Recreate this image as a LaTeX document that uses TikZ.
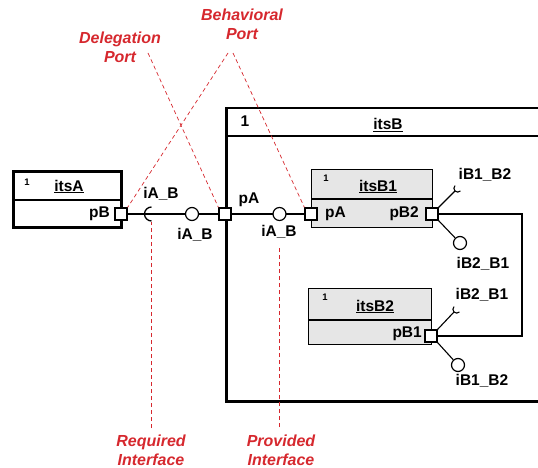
\documentclass[tikz,border=0pt]{standalone}
\usepackage{fontspec}
\setmainfont{Liberation Sans}
\definecolor{notered}{RGB}{214,40,46}
\definecolor{partgray}{RGB}{230,230,230}
\tikzset{
  lbl/.style={font=\fontsize{15.5}{17}\selectfont\bfseries, inner sep=0, anchor=base},
  mult/.style={font=\fontsize{9.5}{10}\selectfont\bfseries, inner sep=0, anchor=base},
  note/.style={font=\fontsize{16}{18.5}\selectfont\bfseries\itshape, text=notered,
    align=center, inner sep=0, anchor=base},
  notelink/.style={draw=notered, dash pattern=on 4pt off 3pt, line width=0.7pt},
  classbox/.style={draw, fill=white, line width=2.5pt, anchor=north west, inner sep=0},
  partbox/.style={draw, fill=partgray, line width=1.4pt, anchor=north west, inner sep=0},
  port/.style={draw, fill=white, minimum size=12pt, inner sep=0, line width=1.2pt},
  ball/.style={circle, draw, fill=white, minimum size=13pt, inner sep=0, line width=1.2pt},
  wire/.style={line width=1.3pt},
  stub/.style={line width=1.1pt}
}
\begin{document}
\begin{tikzpicture}[x=1pt,y=-1pt]
\useasboundingbox (0,0) rectangle (538,468);
\clip (0,0) rectangle (538,468);

% ---- class itsA ----
\node[classbox, minimum width=108pt, minimum height=56pt] (itsA) at (12,170) {};
\draw[line width=2.5pt] (12,200) -- (120,200);
\node[mult] (multA) at (27,185) {1};
\node[lbl] (titleA) at (69,191) {\underline{itsA}};

% ---- composite itsB ----
\node[classbox, minimum width=330pt, minimum height=293pt] (itsB) at (225,107) {};
\draw[line width=2.5pt] (225,136) -- (560,136);
\node[lbl] (multB) at (245,127) {1};
\node[lbl] (titleB) at (388,130) {\underline{itsB}};

% ---- part itsB1 ----
\node[partbox, minimum width=121pt, minimum height=58pt] (itsB1) at (311,169) {};
\draw[line width=1.4pt] (311,199) -- (432,199);
\node[mult] (multB1) at (326,182) {1};
\node[lbl] (titleB1) at (378,191) {\underline{itsB1}};

% ---- part itsB2 ----
\node[partbox, minimum width=123pt, minimum height=56pt] (itsB2) at (308,288) {};
\draw[line width=1.4pt] (308,320) -- (431,320);
\node[mult] (multB2) at (325,300) {1};
\node[lbl] (titleB2) at (375,311) {\underline{itsB2}};

% ---- ports ----
\node[port] (pB)  at (121,214) {};
\node[port] (pAB) at (225,214) {};
\node[port] (pA1) at (311,214) {};
\node[port] (pB2) at (432,214) {};
\node[port] (pB1) at (431,336) {};

\node[lbl, anchor=base east] (pBlbl)  at (110,217) {pB};
\node[lbl] (pABlbl) at (249,203) {pA};
\node[lbl, anchor=base west] (pA1lbl) at (325,217) {pA};
\node[lbl, anchor=base east] (pB2lbl) at (419,217) {pB2};
\node[lbl, anchor=base east] (pB1lbl) at (422,337) {pB1};

% ---- links ----
\coordinate (reqSock) at (151.5,214);
\draw[wire] (pB.east) -- (pAB.west);
\draw[wire] (reqSock) ++(90:7) arc[start angle=90, end angle=270, radius=7];
\node[ball] (ballA) at (192,214) {};
\node[lbl] (ifA1) at (161,198) {iA\_B};
\node[lbl] (ifA2) at (195,239) {iA\_B};

\draw[wire] (pAB.east) -- (pA1.west);
\node[ball] (ballB) at (279.5,214) {};
\node[lbl] (ifA3) at (279,236) {iA\_B};

\coordinate (loopR) at (522,275);
\draw[wire] (pB2.east) -| (loopR) |- (pB1.east);

% interfaces of pB2
\coordinate (sockB2) at (455,191);
\draw[stub] (pB2.north east) -- (sockB2);
\draw[stub] (sockB2) ++(-45:3.8) ++(45:3.8) arc[start angle=45, end angle=225, radius=3.8];
\node[ball] (ballB2) at (460,243) {};
\draw[stub] (pB2.south east) -- (ballB2);
\node[lbl] (ifB2a) at (485,179) {iB1\_B2};
\node[lbl] (ifB2b) at (483,268) {iB2\_B1};

% interfaces of pB1
\coordinate (sockB1) at (454,312);
\draw[stub] (pB1.north east) -- (sockB1);
\draw[stub] (sockB1) ++(-45:3.8) ++(45:3.8) arc[start angle=45, end angle=225, radius=3.8];
\node[ball] (ballB1) at (458,365) {};
\draw[stub] (pB1.south east) -- (ballB1);
\node[lbl] (ifB1a) at (482,299) {iB2\_B1};
\node[lbl] (ifB1b) at (482,385) {iB1\_B2};

% ---- annotations (base = baseline of the last line) ----
\node[note] (delegNote) at (120,62.5) {Delegation\\Port};
\node[note] (behavNote) at (242,39.3) {Behavioral\\Port};
\node[note] (reqNote)   at (151,465) {Required\\Interface};
\node[note] (provNote)  at (281,465) {Provided\\Interface};

\coordinate (delegTip)  at (148,53);
\coordinate (behavTipL) at (228,53);
\coordinate (behavTipR) at (233,53);
\coordinate (reqTop)    at (151,222);
\coordinate (reqBot)    at (151,428);
\coordinate (provTop)   at (279,248);
\coordinate (provBot)   at (279,427);

\draw[notelink] (delegTip) -- (pAB.north west);
\draw[notelink] (behavTipL) -- (pB.north east);
\draw[notelink] (behavTipR) -- (pA1.north west);
\draw[notelink] (reqBot) -- (reqTop);
\draw[notelink] (provBot) -- (provTop);
\end{tikzpicture}
\end{document}
